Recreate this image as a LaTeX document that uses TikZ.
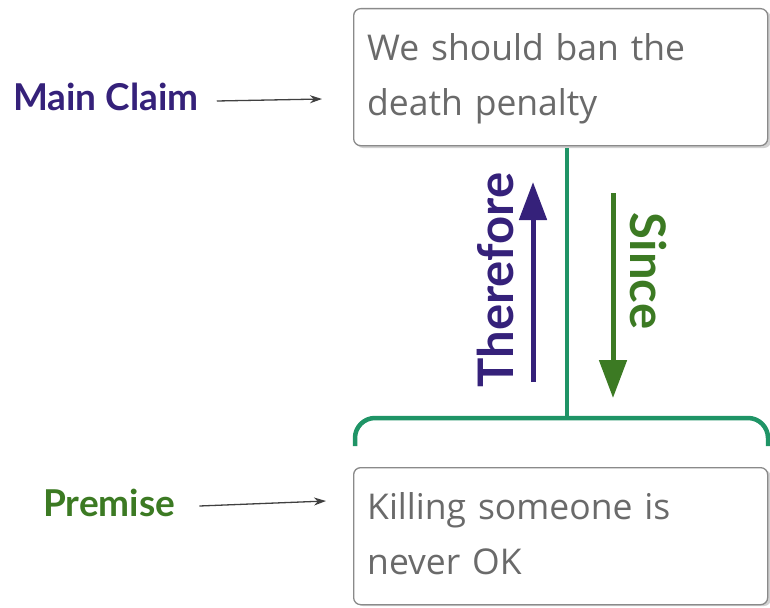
\documentclass[tikz,border=0pt]{standalone}
\usepackage{fontspec}
\setmainfont{Open Sans}
\newfontfamily\labelfont{Lato}
\usetikzlibrary{arrows.meta}
\definecolor{claimpurple}{HTML}{35217A}
\definecolor{premgreen}{HTML}{3C7A23}
\definecolor{linkgreen}{HTML}{1F9466}
\definecolor{boxtext}{HTML}{6A6A6A}
\definecolor{boxborder}{HTML}{8A8A8A}
\tikzset{
  statement/.style={draw=boxborder, line width=1.3pt, rounded corners=7pt, fill=white,
    minimum width=414pt, minimum height=137pt, inner sep=0pt, anchor=north west},
  stmttext/.style={anchor=north west, text=boxtext, font=\fontsize{35.5}{55}\selectfont,
    inner sep=0pt, align=left, text width=395pt},
  shadowbox/.style={fill=black!18, rounded corners=7pt},
  tag/.style={font=\labelfont\bfseries\fontsize{37}{40}\selectfont, inner sep=0pt},
  pointer/.style={-{Stealth[length=12pt,width=8pt]}, line width=1.3pt, draw=black!75},
  flow/.style={line width=5pt, -{Triangle[length=38pt,width=27pt]}},
  flowtext/.style={font=\labelfont\bfseries\fontsize{49}{52}\selectfont, inner sep=0pt},
}
\begin{document}
\begin{tikzpicture}[x=1pt,y=-1pt]
\useasboundingbox (0,0) rectangle (770,607);
\clip (0,0) rectangle (770,607);
% shadows
\fill[shadowbox] (356,11) rectangle (771,148);
\fill[shadowbox] (356,470) rectangle (771,606);
% boxes
\node[statement] (claim) at (353,8) {};
\node[statement] (premise) at (353,467) {};
\node[stmttext] (claimtext) at (367,33) {We should ban the\\death penalty};
\node[stmttext] (premisetext) at (367,492) {Killing someone is\\never OK};
% labels
\node[tag, text=claimpurple, anchor=west] (mainlab) at (13,97) {Main Claim};
\node[tag, text=premgreen, anchor=west] (premlab) at (43,503) {Premise};
\coordinate (mtip) at (322,99);
\coordinate (ptip) at (326,501);
\draw[pointer] (mainlab.east) ++(18,4) coordinate (m1) -- (mtip);
\draw[pointer] (premlab.east) ++(24,3) coordinate (p1) -- (ptip);
% link
\coordinate (stem) at (567,148);
\coordinate (bar) at (567,418);
\draw[linkgreen, line width=4.5pt] (stem) -- (bar);
\draw[linkgreen, line width=4.5pt, rounded corners=20pt] (355,446) -- (355,418) -- (768,418) -- (768,446);
% flow arrows
\coordinate (thA) at (533,382);
\coordinate (thB) at (533,182);
\coordinate (siA) at (613,193);
\coordinate (siB) at (613,398);
\draw[flow, claimpurple] (thA) -- (thB);
\draw[flow, premgreen] (siA) -- (siB);
\node[flowtext, text=claimpurple, rotate=90] (therefore) at (495,280) {Therefore};
\node[flowtext, text=premgreen, rotate=-90] (since) at (648,271) {Since};
\end{tikzpicture}
\end{document}
